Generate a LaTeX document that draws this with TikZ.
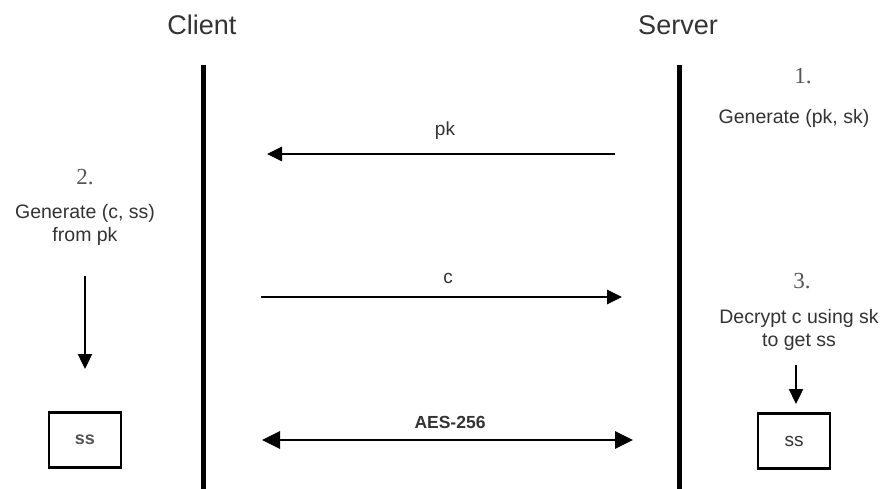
\documentclass[tikz,border=0pt]{standalone}
\usepackage{fontspec}
\setmainfont{Liberation Sans}
\newfontfamily\numfont{Liberation Serif}
\usetikzlibrary{arrows.meta}
\definecolor{txt}{HTML}{333333}
\definecolor{numc}{HTML}{555555}
\definecolor{boxtxt}{HTML}{555555}
\begin{document}
\begin{tikzpicture}[x=1pt,y=-1pt,
  party/.style={font=\fontsize{27}{30}\selectfont, text=txt},
  note/.style={font=\fontsize{19.5}{23}\selectfont, text=txt, align=center},
  stepnum/.style={font=\numfont\fontsize{23}{26}\selectfont, text=numc},
  msglabel/.style={font=\fontsize{19}{22}\selectfont, text=txt},
  lifeline/.style={line width=5pt, black},
  msg/.style={line width=2.7pt, black, -{Triangle[length=15pt,width=14pt]}},
  bimsg/.style={line width=2.8pt, black, {Triangle[length=18pt,width=17pt]}-{Triangle[length=18pt,width=17pt]}},
  down/.style={line width=2.4pt, black, -{Triangle[length=15pt,width=14pt]}},
  keybox/.style={draw=black, line width=2.8pt, minimum width=72pt, minimum height=55pt,
    font=\fontsize{19}{22}\selectfont, text=boxtxt, inner sep=0pt}]
\useasboundingbox (0,0) rectangle (885,489);

% parties and their lifelines
\node[party] (client) at (202,25) {Client};
\node[party] (server) at (678,25) {Server};
\coordinate (ctop) at (203,65);
\coordinate (cbot) at (203,489);
\coordinate (stop) at (679,65);
\coordinate (sbot) at (679,489);
\draw[lifeline] (ctop) -- (cbot);
\draw[lifeline] (stop) -- (sbot);

% step 1: server key generation
\node[stepnum] (n1) at (803,76) {1.};
\node[note] (gen1) at (794,118) {Generate (pk, sk)};

% public key sent to the client
\coordinate (pkfrom) at (615,154);
\coordinate (pkto) at (267,154);
\draw[msg] (pkfrom) -- (pkto);
\node[msglabel] (pk) at (445,131) {pk};

% step 2: client encapsulation
\node[stepnum] (n2) at (85,177) {2.};
\node[note] (gen2) at (85,225) {Generate (c, ss)\\from pk};
\coordinate (cdtop) at (85,276);
\coordinate (cdbot) at (85,369);
\draw[down] (cdtop) -- (cdbot);
\node[keybox, font=\bfseries\fontsize{18}{21}\selectfont, text=numc] (css) at (85,440) {ss};

% ciphertext sent to the server
\coordinate (cfrom) at (261,297);
\coordinate (cto) at (622,297);
\draw[msg] (cfrom) -- (cto);
\node[msglabel] (c) at (448,278) {c};

% step 3: server decapsulation
\node[stepnum] (n3) at (802,281) {3.};
\node[note] (dec) at (799,330) {Decrypt c using sk\\to get ss};
\coordinate (sdtop) at (796,365);
\coordinate (sdbot) at (796,404);
\draw[down] (sdtop) -- (sdbot);
\node[keybox, text=txt] (sss) at (794,441) {ss};

% shared symmetric channel
\coordinate (aesl) at (262,440);
\coordinate (aesr) at (633,440);
\draw[bimsg] (aesl) -- (aesr);
\node[msglabel, font=\bfseries\fontsize{17.5}{20}\selectfont] (aes) at (450,422) {AES-256};
\end{tikzpicture}
\end{document}
